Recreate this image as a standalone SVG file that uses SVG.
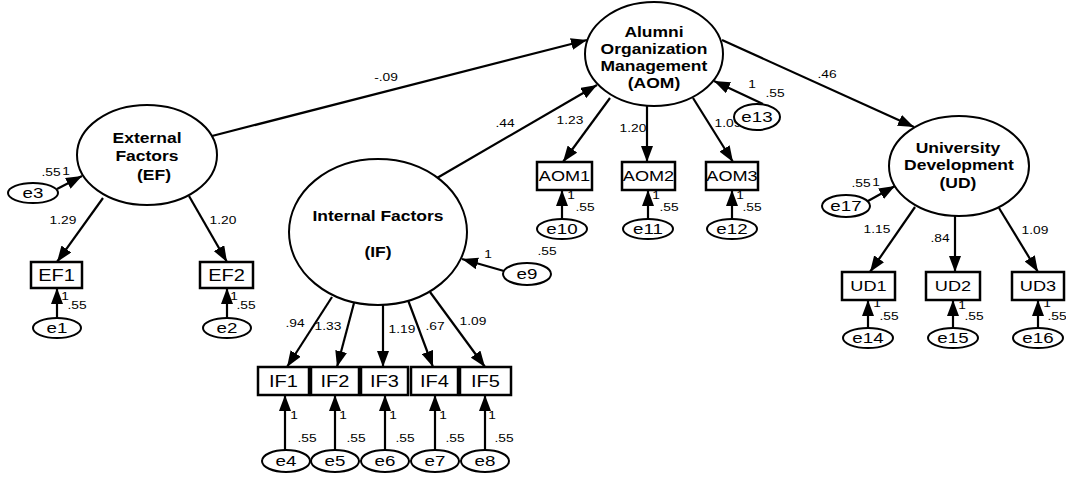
<svg xmlns="http://www.w3.org/2000/svg" width="1066" height="477" viewBox="0 0 1066 477">
<defs>
<marker id="ah" markerUnits="userSpaceOnUse" markerWidth="16" markerHeight="12" refX="16" refY="6" orient="auto"><path d="M0,0 L16,6 L0,12 z" fill="#000"/></marker>
<style>
text{font-family:"Liberation Sans",Arial,sans-serif;fill:#000;text-anchor:middle;transform-box:fill-box;transform-origin:center;transform:scaleX(1.25)}
.lat{font-weight:bold;font-size:14px}
.box{font-size:16px}
.box2{font-size:14.5px}
.err{font-size:15px}
.lbl{font-size:11px}
#connectors line{stroke:#000;stroke-width:2.2;marker-end:url(#ah)}
ellipse{fill:#fff;stroke:#000;stroke-width:2}
rect.n{fill:#fff;stroke:#000;stroke-width:2.5}
</style>
</defs>
<rect x="0" y="0" width="1066" height="477" fill="#fff"/>

<g id="connectors">
<line x1="212" y1="136" x2="587" y2="40"/>
<line x1="437" y1="178" x2="597" y2="85"/>
<line x1="722" y1="40" x2="914" y2="127"/>
<line x1="763" y1="104" x2="714" y2="81"/>
<line x1="57" y1="189" x2="82" y2="176"/>
<line x1="103" y1="198" x2="57" y2="262"/>
<line x1="189" y1="196" x2="227" y2="262"/>
<line x1="57" y1="318" x2="57" y2="288"/>
<line x1="227" y1="318" x2="227" y2="288"/>
<line x1="610" y1="98" x2="563" y2="162"/>
<line x1="647" y1="104" x2="647" y2="162"/>
<line x1="693" y1="98" x2="733" y2="162"/>
<line x1="562" y1="220" x2="562" y2="190"/>
<line x1="648" y1="220" x2="648" y2="190"/>
<line x1="732" y1="220" x2="732" y2="190"/>
<line x1="504" y1="271" x2="462" y2="259"/>
<line x1="332" y1="297" x2="287" y2="367"/>
<line x1="354" y1="303" x2="337" y2="367"/>
<line x1="383" y1="303" x2="383" y2="367"/>
<line x1="408" y1="300" x2="433" y2="367"/>
<line x1="430" y1="292" x2="485" y2="367"/>
<line x1="285" y1="450" x2="285" y2="395"/>
<line x1="335" y1="450" x2="335" y2="395"/>
<line x1="385" y1="450" x2="385" y2="395"/>
<line x1="435" y1="450" x2="435" y2="395"/>
<line x1="485" y1="450" x2="485" y2="395"/>
<line x1="868" y1="201" x2="895" y2="186"/>
<line x1="915" y1="207" x2="870" y2="272"/>
<line x1="955" y1="214" x2="955" y2="272"/>
<line x1="999" y1="208" x2="1038" y2="272"/>
<line x1="868" y1="328" x2="868" y2="300"/>
<line x1="953" y1="328" x2="953" y2="300"/>
<line x1="1038" y1="328" x2="1038" y2="300"/>
<g class="lbl-group">
<text class="lbl" x="386" y="81">-.09</text>
<text class="lbl" x="505" y="127">.44</text>
<text class="lbl" x="827" y="78">.46</text>
<text class="lbl" x="63" y="224">1.29</text>
<text class="lbl" x="223" y="224">1.20</text>
<text class="lbl" x="570" y="124">1.23</text>
<text class="lbl" x="633" y="132">1.20</text>
<text class="lbl" x="728" y="127">1.09</text>
<text class="lbl" x="877" y="233">1.15</text>
<text class="lbl" x="940" y="242">.84</text>
<text class="lbl" x="1035" y="234">1.09</text>
<text class="lbl" x="295" y="327">.94</text>
<text class="lbl" x="328" y="330">1.33</text>
<text class="lbl" x="402" y="333">1.19</text>
<text class="lbl" x="435" y="330">.67</text>
<text class="lbl" x="473" y="325">1.09</text>
<text class="lbl" x="51" y="176">.55</text>
<text class="lbl" x="66" y="175">1</text>
<text class="lbl" x="861" y="187">.55</text>
<text class="lbl" x="876" y="186">1</text>
<text class="lbl" x="752" y="88">1</text>
<text class="lbl" x="775" y="97">.55</text>
<text class="lbl" x="488" y="258">1</text>
<text class="lbl" x="547" y="255">.55</text>
<text class="lbl" x="65" y="300">1</text>
<text class="lbl" x="77" y="309">.55</text>
<text class="lbl" x="234" y="300">1</text>
<text class="lbl" x="246" y="309">.55</text>
<text class="lbl" x="571" y="199">1</text>
<text class="lbl" x="585" y="211">.55</text>
<text class="lbl" x="656" y="199">1</text>
<text class="lbl" x="669" y="211">.55</text>
<text class="lbl" x="740" y="199">1</text>
<text class="lbl" x="752" y="211">.55</text>
<text class="lbl" x="877" y="307">1</text>
<text class="lbl" x="889" y="320">.55</text>
<text class="lbl" x="962" y="309">1</text>
<text class="lbl" x="974" y="320">.55</text>
<text class="lbl" x="1047" y="307">1</text>
<text class="lbl" x="1057" y="320">.55</text>
<text class="lbl" x="294" y="419">1</text>
<text class="lbl" x="307" y="442">.55</text>
<text class="lbl" x="343" y="419">1</text>
<text class="lbl" x="356" y="442">.55</text>
<text class="lbl" x="393" y="419">1</text>
<text class="lbl" x="405" y="442">.55</text>
<text class="lbl" x="443" y="419">1</text>
<text class="lbl" x="455" y="442">.55</text>
<text class="lbl" x="492" y="419">1</text>
<text class="lbl" x="504" y="442">.55</text>
</g>
</g>

<g id="AOM"><ellipse cx="654" cy="54" rx="69" ry="52"/>
<text class="lat" x="654" y="37">Alumni</text>
<text class="lat" x="654" y="54">Organization</text>
<text class="lat" x="654" y="71">Management</text>
<text class="lat" x="654" y="88">(AOM)</text></g>
<g id="EF"><ellipse cx="147" cy="155" rx="70" ry="50"/>
<text class="lat" x="147" y="143">External</text>
<text class="lat" x="147" y="161">Factors</text>
<text class="lat" x="154" y="180">(EF)</text></g>
<g id="IF"><ellipse cx="378" cy="232" rx="89" ry="73"/>
<text class="lat" x="378" y="221">Internal Factors</text>
<text class="lat" x="378" y="257">(IF)</text></g>
<g id="UD"><ellipse cx="959" cy="166" rx="70" ry="50"/>
<text class="lat" x="958" y="153">University</text>
<text class="lat" x="959" y="170">Development</text>
<text class="lat" x="958" y="188">(UD)</text></g>

<g id="EF1"><rect class="n" x="31" y="262" width="51" height="26"/><text class="box" x="56.5" y="281">EF1</text></g>
<g id="EF2"><rect class="n" x="200" y="262" width="53" height="26"/><text class="box" x="226.5" y="281">EF2</text></g>
<g id="AOM1"><rect class="n" x="537" y="162" width="55" height="28"/><text class="box2" x="564.5" y="181">AOM1</text></g>
<g id="AOM2"><rect class="n" x="622" y="162" width="53" height="28"/><text class="box2" x="648.5" y="181">AOM2</text></g>
<g id="AOM3"><rect class="n" x="706" y="162" width="52" height="28"/><text class="box2" x="732" y="181">AOM3</text></g>
<g id="IF1"><rect class="n" x="258" y="367" width="51" height="28"/><text class="box" x="283.5" y="387">IF1</text></g>
<g id="IF2"><rect class="n" x="311" y="367" width="48" height="28"/><text class="box" x="335" y="387">IF2</text></g>
<g id="IF3"><rect class="n" x="361" y="367" width="47" height="28"/><text class="box" x="384.5" y="387">IF3</text></g>
<g id="IF4"><rect class="n" x="411" y="367" width="47" height="28"/><text class="box" x="434.5" y="387">IF4</text></g>
<g id="IF5"><rect class="n" x="460" y="367" width="51" height="28"/><text class="box" x="485.5" y="387">IF5</text></g>
<g id="UD1"><rect class="n" x="842" y="272" width="53" height="28"/><text class="box2" x="868.5" y="291">UD1</text></g>
<g id="UD2"><rect class="n" x="926" y="272" width="54" height="28"/><text class="box2" x="953" y="291">UD2</text></g>
<g id="UD3"><rect class="n" x="1012" y="272" width="52" height="28"/><text class="box2" x="1038" y="291">UD3</text></g>

<g id="e1"><ellipse cx="57" cy="328" rx="24" ry="10"/><text class="err" x="57" y="333">e1</text></g>
<g id="e2"><ellipse cx="227" cy="328" rx="24" ry="10"/><text class="err" x="227" y="333">e2</text></g>
<g id="e3"><ellipse cx="33" cy="193" rx="25" ry="10"/><text class="err" x="33" y="198">e3</text></g>
<g id="e4"><ellipse cx="286" cy="461" rx="24" ry="11"/><text class="err" x="286" y="466">e4</text></g>
<g id="e5"><ellipse cx="335" cy="461" rx="24" ry="11"/><text class="err" x="335" y="466">e5</text></g>
<g id="e6"><ellipse cx="385" cy="461" rx="24" ry="11"/><text class="err" x="385" y="466">e6</text></g>
<g id="e7"><ellipse cx="435" cy="461" rx="24" ry="11"/><text class="err" x="435" y="466">e7</text></g>
<g id="e8"><ellipse cx="485" cy="461" rx="24" ry="11"/><text class="err" x="485" y="466">e8</text></g>
<g id="e9"><ellipse cx="527" cy="274" rx="24" ry="11"/><text class="err" x="527" y="279">e9</text></g>
<g id="e10"><ellipse cx="562" cy="229" rx="25" ry="10"/><text class="err" x="562" y="234">e10</text></g>
<g id="e11"><ellipse cx="648" cy="229" rx="25" ry="10"/><text class="err" x="648" y="234">e11</text></g>
<g id="e12"><ellipse cx="732" cy="229" rx="25" ry="10"/><text class="err" x="732" y="234">e12</text></g>
<g id="e13"><ellipse cx="757" cy="117" rx="23" ry="13"/><text class="err" x="757" y="122">e13</text></g>
<g id="e14"><ellipse cx="868" cy="338" rx="25" ry="10"/><text class="err" x="868" y="343">e14</text></g>
<g id="e15"><ellipse cx="953" cy="338" rx="25" ry="10"/><text class="err" x="953" y="343">e15</text></g>
<g id="e16"><ellipse cx="1038" cy="338" rx="25" ry="10"/><text class="err" x="1038" y="343">e16</text></g>
<g id="e17"><ellipse cx="846" cy="206" rx="24" ry="11"/><text class="err" x="846" y="211">e17</text></g>
</svg>
